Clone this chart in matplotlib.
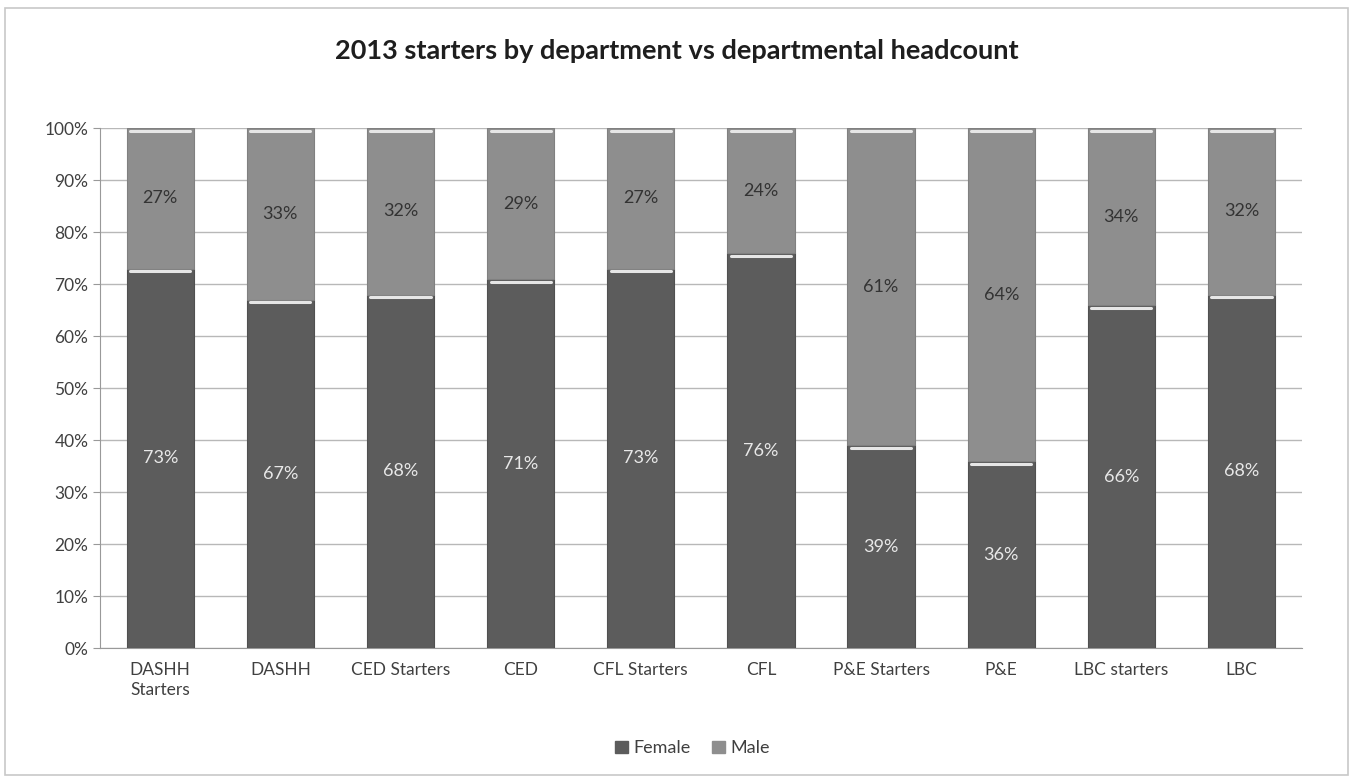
import matplotlib
matplotlib.use("Agg")
import matplotlib.pyplot as plt
from matplotlib.patches import Rectangle
from matplotlib.ticker import PercentFormatter
import numpy as np

plt.rcParams['font.family'] = ['Lato', 'DejaVu Sans']

categories = ["DASHH\nStarters", "DASHH", "CED Starters", "CED", "CFL Starters",
              "CFL", "P&E Starters", "P&E", "LBC starters", "LBC"]
female = [73, 67, 68, 71, 73, 76, 39, 36, 66, 68]
male = [27, 33, 32, 29, 27, 24, 61, 64, 34, 32]

female_color = "#5c5c5c"
male_color = "#8e8e8e"
text_color = "#404040"

fig = plt.figure(figsize=(13.53, 7.81), dpi=100)
fig.patch.set_facecolor("white")
fig.add_artist(Rectangle((0.004, 0.008), 0.992, 0.982, transform=fig.transFigure,
                         fill=False, edgecolor="#c8c8c8", linewidth=1.2))

ax = fig.add_axes([0.074, 0.170, 0.888, 0.666])
x = np.arange(len(categories))
w = 0.56

ax.bar(x, female, width=w, color=female_color, edgecolor="#505050",
       linewidth=0.8, zorder=3)
ax.bar(x, male, width=w, bottom=female, color=male_color, edgecolor="#808080",
       linewidth=0.8, zorder=3)

# light bevel line along the top of each segment
for xi, f, m in zip(x, female, male):
    for top in (f, f + m):
        ax.plot([xi - w / 2 + 0.03, xi + w / 2 - 0.03], [top - 0.5, top - 0.5],
                color="#e6e6e6", linewidth=2.2, solid_capstyle="round", zorder=4)

for xi, f, m in zip(x, female, male):
    ax.text(xi, f / 2, f"{f}%", ha="center", va="center", color="#e8e8e8",
            fontsize=13, zorder=5)
    ax.text(xi, f + m / 2, f"{m}%", ha="center", va="center", color="#333333",
            fontsize=13, zorder=5)

ax.set_xlim(-0.5, len(categories) - 0.5)
ax.set_ylim(0, 100)
ax.set_yticks(np.arange(0, 101, 10))
ax.yaxis.set_major_formatter(PercentFormatter(decimals=0))
ax.set_xticks(x)
ax.set_xticklabels(categories, fontsize=12.5, color=text_color, linespacing=1.3)
ax.tick_params(axis="y", labelsize=12.5, labelcolor=text_color, length=5,
               color="#999999")
ax.tick_params(axis="x", length=0, pad=10)
ax.grid(axis="y", color="#b8b8b8", linewidth=1, zorder=0)
for side in ("top", "right"):
    ax.spines[side].set_visible(False)
ax.spines["left"].set_color("#999999")
ax.spines["bottom"].set_color("#999999")

fig.text(0.5, 0.935, "2013 starters by department vs departmental headcount",
         ha="center", va="center", fontsize=19.5, fontweight="bold", color="#1e1e1e")

handles = [Rectangle((0, 0), 1, 1, color=female_color),
           Rectangle((0, 0), 1, 1, color=male_color)]
fig.legend(handles, ["Female", "Male"], loc="center", bbox_to_anchor=(0.512, 0.042),
           ncol=2, frameon=False, fontsize=13, handlelength=0.7,
           handleheight=0.7, handletextpad=0.3, columnspacing=1.2,
           labelcolor=text_color)

fig.savefig("out.png", dpi=100)
